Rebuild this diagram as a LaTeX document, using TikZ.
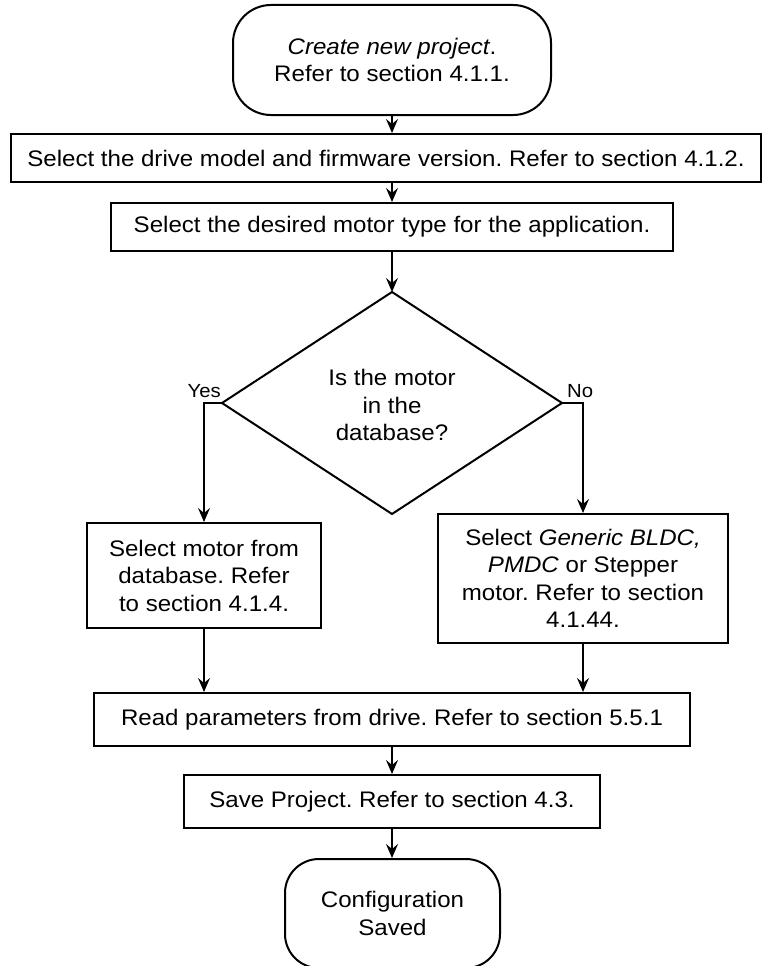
\documentclass[tikz,border=0pt]{standalone}
\usepackage{fontspec}
\setmainfont[FakeStretch=1.07]{Liberation Sans}
\usetikzlibrary{arrows.meta,calc}

\tikzset{
  x=1pt, y=-1pt,
  every node/.style={font=\fontsize{22.5}{27.5}\selectfont, align=center, inner sep=0pt},
  procbox/.style={draw, line width=2pt, rectangle},
  termbox/.style={draw, line width=2pt, rectangle, rounded corners=38pt},
  flow/.style={line width=1.5pt, -{Stealth[length=14pt,width=12pt,inset=5pt]}},
  answer/.style={font=\fontsize{19}{22}\selectfont},
}

\begin{document}
\frenchspacing
\begin{tikzpicture}
\useasboundingbox (0,0) rectangle (762,966);

% start and the first two steps
\node[termbox, minimum width=318, minimum height=110] (start) at (392,60)
  {\textit{Create new project}.\\Refer to section 4.1.1.};
\node[procbox, minimum width=750, minimum height=48] (drive) at (386,158)
  {Select the drive model and firmware version. Refer to section 4.1.2.};
\node[procbox, minimum width=562, minimum height=48] (mtype) at (392,227)
  {Select the desired motor type for the application.};

% decision
\node (dec) at (392,405) {Is the motor\\in the\\database?};
\coordinate (dtop) at (392,292);
\coordinate (dbot) at (392,514);
\coordinate (dleft) at (222,403);
\coordinate (dright) at (562,403);
\draw[line width=2pt, line join=miter] (dtop) -- (dright) -- (dbot) -- (dleft) -- cycle;

% the two branches
\node[procbox, minimum width=234, minimum height=105] (fromdb) at (204,575.5)
  {Select motor from\\database. Refer\\to section 4.1.4.};
\node[procbox, minimum width=290, minimum height=129] (generic) at (583,578.5)
  {Select \textit{Generic BLDC,}\\\textit{PMDC} or Stepper\\motor. Refer to section\\4.1.44.};

% final steps
\node[procbox, minimum width=596, minimum height=53] (readp) at (392,719.5)
  {Read parameters from drive. Refer to section 5.5.1};
\node[procbox, minimum width=416, minimum height=53] (saveproj) at (392,801.5)
  {Save Project. Refer to section 4.3.};
\node[termbox, rounded corners=34pt, minimum width=215, minimum height=109] (done) at (392.5,913.5)
  {Configuration\\Saved};

% branch labels
\node[answer, anchor=base east] (yes) at (221,397) {Yes};
\node[answer, anchor=base west] (no) at (567,397) {No};

% connectors
\draw[flow] (start.south) -- (start.south |- drive.north);
\draw[flow] (mtype.north |- drive.south) -- (mtype.north);
\draw[flow] (mtype.south) -- (dtop);
\draw[flow] (dleft) -| (fromdb.north);
\draw[flow] (dright) -| (generic.north);
\draw[flow] (fromdb.south) -- (fromdb.south |- readp.north);
\draw[flow] (generic.south) -- (generic.south |- readp.north);
\draw[flow] (readp.south) -- (saveproj.north);
\draw[flow] (saveproj.south) -- (saveproj.south |- done.north);
\end{tikzpicture}
\end{document}
